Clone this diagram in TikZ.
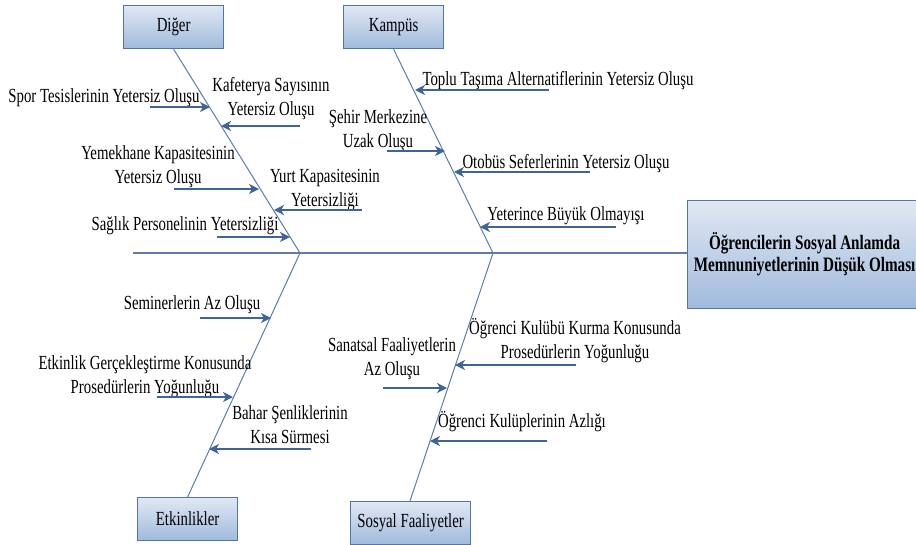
\documentclass[tikz,border=0pt]{standalone}
\usepackage{fontspec}
\setmainfont{Liberation Serif}[FakeStretch=0.74]
\usetikzlibrary{arrows.meta}
\definecolor{boneblue}{HTML}{5A7DAE}
\definecolor{arrowblue}{HTML}{3E6498}
\definecolor{boxtop}{HTML}{E0E8F3}
\definecolor{boxbot}{HTML}{A0BADC}
\definecolor{boxline}{HTML}{5276A8}
\begin{document}
\begin{tikzpicture}[x=1pt,y=-1pt,
  every node/.style={font=\fontsize{20}{23.5}\selectfont, inner sep=0pt},
  catbox/.style={draw=boxline, line width=1.2pt, top color=boxtop, bottom color=boxbot,
    minimum height=43pt, anchor=north west},
  bone/.style={draw=boneblue, line width=1pt},
  cause/.style={draw=arrowblue, line width=1.5pt, -{Stealth[length=10pt,width=10pt,inset=3pt]}},
  lbl/.style={align=center, anchor=base}]
\useasboundingbox (0,0) rectangle (916,544);

% category boxes
\node[catbox, minimum width=100pt] (diger) at (123,5) {Diğer};
\node[catbox, minimum width=100pt] (kampus) at (343,5) {Kampüs};
\node[catbox, minimum width=100pt] (etk) at (137,497) {Etkinlikler};
\node[catbox, minimum width=120pt] (sosyal) at (350,501) {Sosyal Faaliyetler};

% effect box
\node[catbox, minimum width=234pt, minimum height=108pt,
  font=\fontsize{20.5}{22}\selectfont\bfseries, align=center] (head) at (687,200)
  {Öğrencilerin Sosyal Anlamda\\Memnuniyetlerinin Düşük Olması};

% spine and joints
\coordinate (tail) at (133,253);
\coordinate (j1) at (300,253);
\coordinate (j2) at (493,253);
\coordinate (s1) at (410,501);
\draw[bone, line width=1.3pt] (tail) -- (head.west |- tail);
\draw[bone] (diger.south) -- (j1) -- (etk.north);
\draw[bone] (kampus.south) -- (j2) -- (s1);

% Diğer causes
\node[lbl] (t1) at (104,102) {Spor Tesislerinin Yetersiz Oluşu};
\coordinate (a1) at (150,107); \coordinate (b1) at (210,107);
\draw[cause] (a1) -- (b1);
\node[lbl] (t2) at (271,115) {Kafeterya Sayısının\\Yetersiz Oluşu};
\coordinate (a2) at (300,126); \coordinate (b2) at (221,126);
\draw[cause] (a2) -- (b2);
\node[lbl] (t3) at (158,183) {Yemekhane Kapasitesinin\\Yetersiz Oluşu};
\coordinate (a3) at (174,189); \coordinate (b3) at (259,189);
\draw[cause] (a3) -- (b3);
\node[lbl] (t4) at (325,206) {Yurt Kapasitesinin\\Yetersizliği};
\coordinate (a4) at (362,210); \coordinate (b4) at (274,210);
\draw[cause] (a4) -- (b4);
\node[lbl] (t5) at (185,230) {Sağlık Personelinin Yetersizliği};
\coordinate (a5) at (217,237); \coordinate (b5) at (290,237);
\draw[cause] (a5) -- (b5);

% Kampüs causes
\node[lbl] (t6) at (558,85) {Toplu Taşıma Alternatiflerinin Yetersiz Oluşu};
\coordinate (a6) at (549,90); \coordinate (b6) at (415,90);
\draw[cause] (a6) -- (b6);
\node[lbl] (t7) at (378,147) {Şehir Merkezine\\Uzak Oluşu};
\coordinate (a7) at (387,151); \coordinate (b7) at (445,151);
\draw[cause] (a7) -- (b7);
\node[lbl] (t8) at (566,168) {Otobüs Seferlerinin Yetersiz Oluşu};
\coordinate (a8) at (590,172); \coordinate (b8) at (454,172);
\draw[cause] (a8) -- (b8);
\node[lbl] (t9) at (566,220) {Yeterince Büyük Olmayışı};
\coordinate (a9) at (616,227); \coordinate (b9) at (480,227);
\draw[cause] (a9) -- (b9);

% Etkinlikler causes
\node[lbl] (t10) at (192,309) {Seminerlerin Az Oluşu};
\coordinate (a10) at (200,318); \coordinate (b10) at (271,318);
\draw[cause] (a10) -- (b10);
\node[lbl] (t11) at (145,393) {Etkinlik Gerçekleştirme Konusunda\\Prosedürlerin Yoğunluğu};
\coordinate (a11) at (157,397); \coordinate (b11) at (233,397);
\draw[cause] (a11) -- (b11);
\node[lbl] (t12) at (290,443) {Bahar Şenliklerinin\\Kısa Sürmesi};
\coordinate (a12) at (311,449); \coordinate (b12) at (209,449);
\draw[cause] (a12) -- (b12);

% Sosyal Faaliyetler causes
\node[lbl] (t13) at (575,358) {Öğrenci Kulübü Kurma Konusunda\\Prosedürlerin Yoğunluğu};
\coordinate (a13) at (576,365); \coordinate (b13) at (455,365);
\draw[cause] (a13) -- (b13);
\node[lbl] (t14) at (392,375) {Sanatsal Faaliyetlerin\\Az Oluşu};
\coordinate (a14) at (383,388); \coordinate (b14) at (447,388);
\draw[cause] (a14) -- (b14);
\node[lbl] (t15) at (522,427) {Öğrenci Kulüplerinin Azlığı};
\coordinate (a15) at (547,441); \coordinate (b15) at (430,441);
\draw[cause] (a15) -- (b15);
\end{tikzpicture}
\end{document}
